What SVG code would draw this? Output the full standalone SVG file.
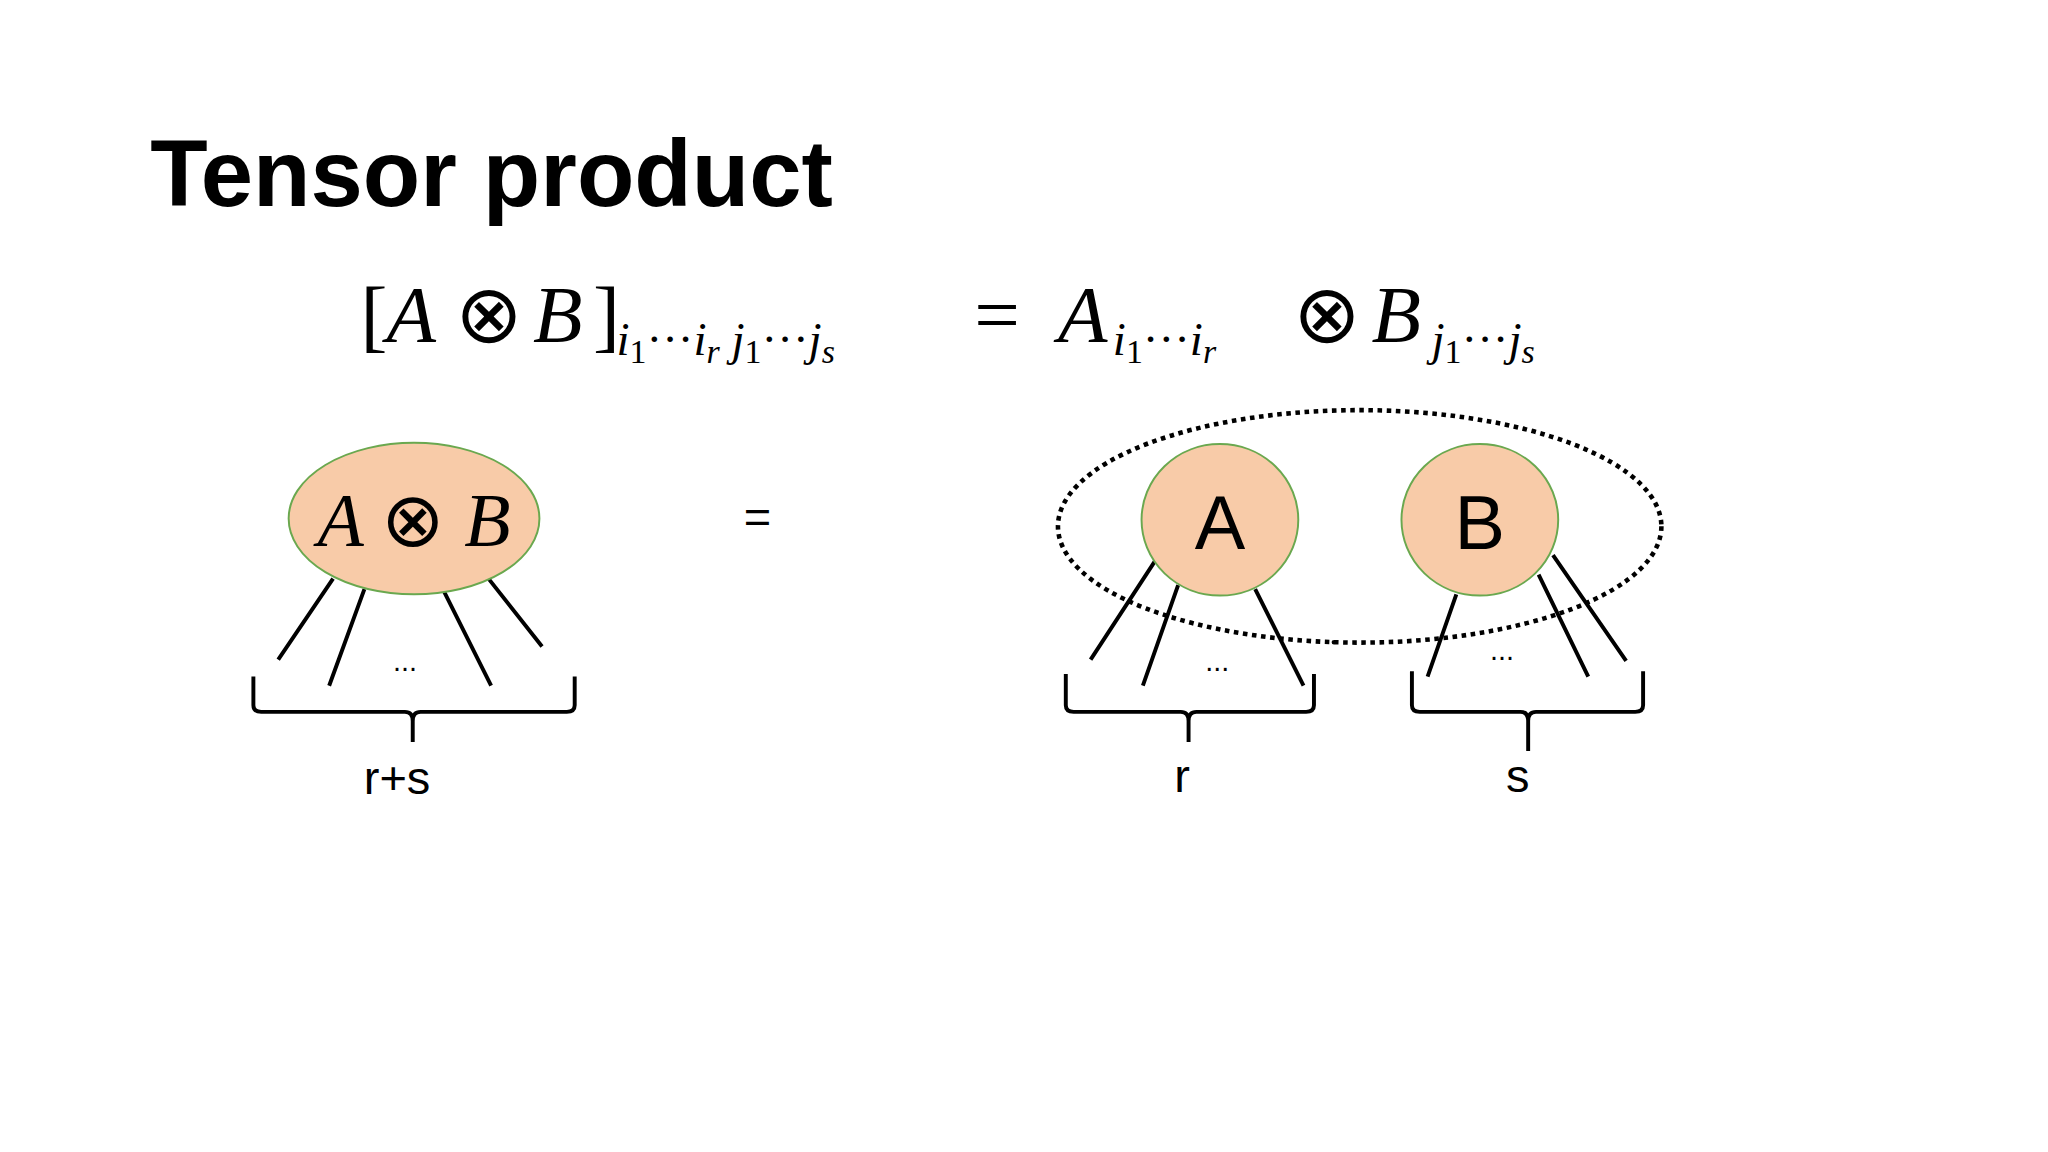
<svg xmlns="http://www.w3.org/2000/svg" width="2048" height="1152" viewBox="0 0 2048 1152">
<style>
.ln{stroke:#000;stroke-width:3;fill:none}
.nd{fill:#f8cba8;stroke:#6aa84f;stroke-width:1.5}
.m{font-family:"Liberation Serif",serif;font-style:italic}
.s{font-family:"Liberation Sans",sans-serif}
</style>
<rect width="2048" height="1152" fill="#fff"/>
<g transform="scale(1.306122)">
<text x="115" y="158" class="s" font-size="72" font-weight="bold">Tensor product</text>
<g id="formula" class="m" font-size="62">
<text x="276" y="262" font-style="normal">[</text>
<text x="296" y="262">A</text>
<text x="348" y="262" font-style="normal">⊗</text>
<text x="408" y="262">B</text>
<text x="454" y="262" font-style="normal">]</text>
<text x="472" y="272" font-size="36">i<tspan font-size="26" dy="6" font-style="normal">1</tspan><tspan dy="-6" font-style="normal">···</tspan>i<tspan font-size="26" dy="6">r</tspan><tspan dy="-6"> j</tspan><tspan font-size="26" dy="6" font-style="normal">1</tspan><tspan dy="-6" font-style="normal">···</tspan>j<tspan font-size="26" dy="6">s</tspan></text>
<text x="746" y="262" font-style="normal">=</text>
<text x="810" y="262">A</text>
<text x="852" y="272" font-size="36">i<tspan font-size="26" dy="6" font-style="normal">1</tspan><tspan dy="-6" font-style="normal">···</tspan>i<tspan font-size="26" dy="6">r</tspan></text>
<text x="990" y="262" font-style="normal">⊗</text>
<text x="1050" y="262">B</text>
<text x="1096" y="272" font-size="36">j<tspan font-size="26" dy="6" font-style="normal">1</tspan><tspan dy="-6" font-style="normal">···</tspan>j<tspan font-size="26" dy="6">s</tspan></text>
</g>
<g id="connectors">
<path class="ln" d="M255,443L213,505M279,451L252,525M340,453L376,525M374,443L415,495"/>
<path class="ln" d="M884,430L835,505M902,448L875,525M961,451L998,525"/>
<path class="ln" d="M1115,455L1093,518M1178,440L1216,518M1189,425L1245,506"/>
<path class="ln" d="M194,518L194,540Q194,545 200,545L310,545Q316,545 316,552L316,568M316,552Q316,545 322,545L434,545Q440,545 440,540L440,518"/>
<path class="ln" d="M816,516L816,540Q816,545 822,545L904,545Q910,545 910,552L910,568M910,552Q910,545 916,545L1000,545Q1006,545 1006,540L1006,516"/>
<path class="ln" d="M1081,514L1081,540Q1081,545 1087,545L1164,545Q1170,545 1170,552L1170,575M1170,552Q1170,545 1176,545L1252,545Q1258,545 1258,540L1258,514"/>
<ellipse cx="1041" cy="403" rx="231" ry="89" fill="none" stroke="#000" stroke-width="3.5" stroke-dasharray="3.5 3.5"/>
</g>
<g id="nodeAB"><ellipse class="nd" cx="317" cy="397" rx="96" ry="58"/>
<text x="317" y="418" class="m" font-size="58" text-anchor="middle">A <tspan font-style="normal">⊗</tspan> B</text></g>
<g id="nodeA"><ellipse class="nd" cx="934" cy="398" rx="60" ry="58"/>
<text x="934" y="420" class="s" font-size="58" text-anchor="middle">A</text></g>
<g id="nodeB"><ellipse class="nd" cx="1133" cy="398" rx="60" ry="58"/>
<text x="1133" y="420" class="s" font-size="58" text-anchor="middle">B</text></g>
<g class="s" text-anchor="middle">
<text x="310" y="514" font-size="22">...</text>
<text x="932" y="514" font-size="22">...</text>
<text x="1150" y="505" font-size="22">...</text>
<text x="304" y="608" font-size="36">r+s</text>
<text x="905" y="606" font-size="36">r</text>
<text x="1162" y="606" font-size="36">s</text>
<text x="580" y="408" font-size="36">=</text>
</g>
</g>
</svg>
